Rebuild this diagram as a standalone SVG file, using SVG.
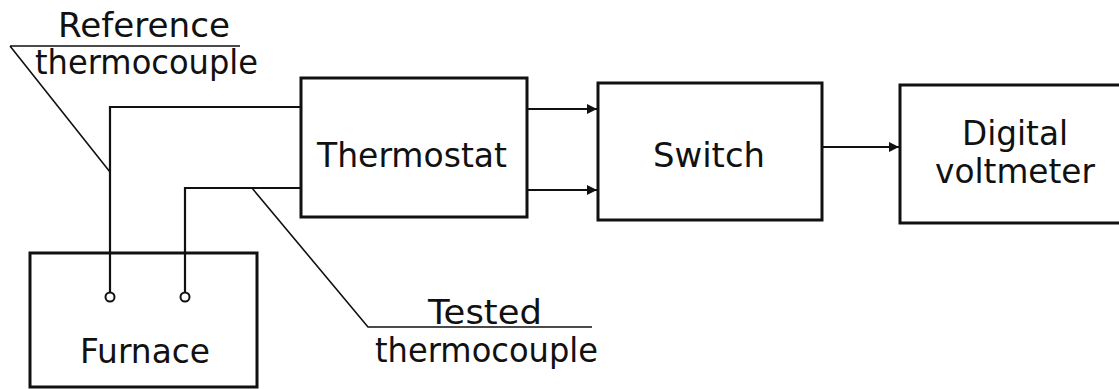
<svg xmlns="http://www.w3.org/2000/svg" width="1119" height="389" viewBox="0 0 1119 389">
<style>
.box{fill:none;stroke:#111;stroke-width:3}
.wire{fill:none;stroke:#111;stroke-width:2.2}
.lead{fill:none;stroke:#111;stroke-width:1.6}
.t{font-family:"DejaVu Sans",sans-serif;font-size:34px;fill:#111}
.term{fill:#fff;stroke:#111;stroke-width:2}
</style>
<defs>
<marker id="ah" viewBox="0 0 10 10" refX="10" refY="5" markerWidth="13" markerHeight="10" markerUnits="userSpaceOnUse" orient="auto">
<path d="M0,0 L10,5 L0,10 z" fill="#111"/>
</marker>
</defs>
<rect width="1119" height="389" fill="#fff"/>
<g id="furnace">
<rect class="box" x="30" y="253" width="227" height="134"/>
<text class="t" x="80" y="363" textLength="130" lengthAdjust="spacingAndGlyphs">Furnace</text>
</g>
<g id="thermostat">
<rect class="box" x="301" y="78" width="226" height="139"/>
<text class="t" x="317" y="167" textLength="190" lengthAdjust="spacingAndGlyphs">Thermostat</text>
</g>
<g id="switch">
<rect class="box" x="598" y="83" width="224" height="137"/>
<text class="t" x="653" y="167" textLength="112" lengthAdjust="spacingAndGlyphs">Switch</text>
</g>
<g id="voltmeter">
<rect class="box" x="900" y="85" width="240" height="138"/>
<text class="t" x="962" y="145" textLength="106" lengthAdjust="spacingAndGlyphs">Digital</text>
<text class="t" x="935" y="183" textLength="160" lengthAdjust="spacingAndGlyphs">voltmeter</text>
</g>
<g id="ref-label">
<text class="t" x="58" y="37" textLength="172" lengthAdjust="spacingAndGlyphs">Reference</text>
<text class="t" x="35" y="74" textLength="223" lengthAdjust="spacingAndGlyphs">thermocouple</text>
</g>
<g id="tested-label">
<text class="t" x="428" y="324" textLength="114" lengthAdjust="spacingAndGlyphs">Tested</text>
<text class="t" x="375" y="362" textLength="223" lengthAdjust="spacingAndGlyphs">thermocouple</text>
</g>
<g id="connectors">
<path class="wire" d="M110,292 V107 H301"/>
<path class="wire" d="M185,292 V188 H301"/>
<circle class="term" cx="110" cy="297" r="4.5"/>
<circle class="term" cx="185" cy="297" r="4.5"/>
<path class="wire" d="M527,109 H597" marker-end="url(#ah)"/>
<path class="wire" d="M527,190 H597" marker-end="url(#ah)"/>
<path class="wire" d="M822,147 H899" marker-end="url(#ah)"/>
<path class="lead" d="M10,46 H240 M10,46 L110,172"/>
<path class="lead" d="M252,188 L368,327 H592"/>
</g>
</svg>
